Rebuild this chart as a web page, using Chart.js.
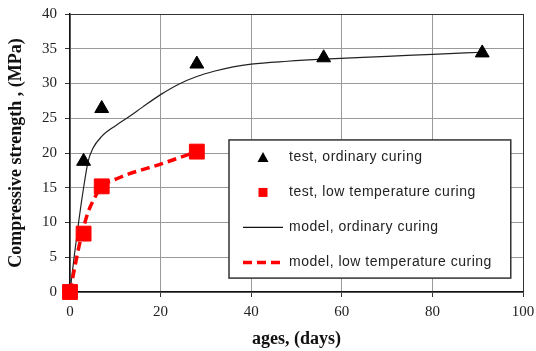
<!doctype html>
<html lang="en">
  <head>
    <script src="https://cdn.jsdelivr.net/npm/chart.js@4.4.1/dist/chart.umd.min.js"></script>
    <title>Compressive strength vs age</title>
    <style>
      html, body { margin: 0; padding: 0; background: #fff; }
    </style>
  </head>
  <body>
    <div style="width: 536px; height: 351px;"><canvas id="strengthChart"></canvas></div>

  <script>
    // test results
    const testOrdDays = [3, 7, 28, 56, 91];
    const testOrdStrength = [18.8, 26.4, 32.8, 33.7, 34.4];
    const testLowDays = [0, 3, 7, 28];
    const testLowStrength = [0, 8.4, 15.2, 20.2];

    // model curves
    const modelOrdDays = [0, 1, 2, 3, 4, 5, 7, 10, 13, 16, 20, 24, 28, 32, 36, 40, 48, 56, 70, 80, 91];
    const modelOrdStrength = [0, 5.5, 10.5, 15, 18.8, 20.6, 22.4, 23.9, 25.2, 26.6, 28.4, 29.9, 31, 31.8, 32.4, 32.8, 33.2, 33.5, 33.9, 34.2, 34.5];
    const modelLowDays = [0, 1, 2, 3, 4, 5, 7, 10, 13, 16, 20, 24, 28];
    const modelLowStrength = [0, 3.4, 6.6, 9.3, 11.5, 13, 15.2, 16.2, 17, 17.6, 18.4, 19.3, 20.2];

    const legendLabels = ['test, ordinary curing', 'test, low temperature curing', 'model, ordinary curing', 'model, low temperature curing'];

    function toPoints(xs, ys) {
        return xs.map((x, i) => ({x: x, y: ys[i]}));
    }

    // legend box drawn inside the plot area
    const boxLegend = {
        id: 'boxLegend',
        afterDatasetsDraw(chart) {
            const ctx = chart.ctx;
            const a = chart.chartArea;
            const w = a.right - a.left, h = a.bottom - a.top;
            const left = a.left + w * 0.351, right = a.left + w * 0.973;
            const top = a.top + h * 0.453, bottom = a.top + h * 0.95;
            ctx.save();
            ctx.fillStyle = '#fff';
            ctx.fillRect(left, top, right - left, bottom - top);
            ctx.strokeStyle = '#333';
            ctx.lineWidth = 1.5;
            ctx.strokeRect(left, top, right - left, bottom - top);

            const symX = left + 34;
            const textX = left + 60;
            const rowH = 35;
            const y0 = top + 17.5;
            ctx.font = '14px "Liberation Sans", sans-serif';
            ctx.letterSpacing = '0.5px';
            ctx.textBaseline = 'middle';
            ctx.textAlign = 'left';
            for (let i = 0; i < legendLabels.length; i++) {
                const y = y0 + i * rowH;
                if (i === 0) {
                    ctx.fillStyle = '#000';
                    ctx.beginPath();
                    ctx.moveTo(symX, y - 5.5);
                    ctx.lineTo(symX + 5.5, y + 4.5);
                    ctx.lineTo(symX - 5.5, y + 4.5);
                    ctx.closePath();
                    ctx.fill();
                } else if (i === 1) {
                    ctx.fillStyle = '#f00';
                    ctx.fillRect(symX - 4.5, y - 4.5, 9, 9);
                } else {
                    ctx.beginPath();
                    ctx.moveTo(symX - 20, y);
                    ctx.lineTo(symX + 20, y);
                    if (i === 2) {
                        ctx.strokeStyle = '#111';
                        ctx.lineWidth = 1.2;
                        ctx.setLineDash([]);
                    } else {
                        ctx.strokeStyle = '#f00';
                        ctx.lineWidth = 3.5;
                        ctx.setLineDash([9, 5]);
                    }
                    ctx.stroke();
                    ctx.setLineDash([]);
                }
                ctx.fillStyle = '#222';
                ctx.fillText(legendLabels[i], textX, y);
            }
            ctx.restore();
        }
    };

    new Chart(
        document.getElementById('strengthChart'),
        {
        type: 'scatter',
        data: {
            datasets: [
            {
                label: legendLabels[0],
                data: toPoints(testOrdDays, testOrdStrength),
                pointStyle: 'triangle',
                pointRadius: 8,
                pointBackgroundColor: '#000',
                pointBorderColor: '#000',
                clip: false,
                order: 1
            },
            {
                label: legendLabels[1],
                data: toPoints(testLowDays, testLowStrength),
                pointStyle: 'rect',
                pointRadius: 10.5,
                pointBackgroundColor: '#f00',
                pointBorderColor: '#f00',
                clip: false,
                order: 0
            },
            {
                label: legendLabels[2],
                data: toPoints(modelOrdDays, modelOrdStrength),
                showLine: true,
                pointRadius: 0,
                borderColor: '#222',
                borderWidth: 1.2,
                cubicInterpolationMode: 'monotone',
                order: 3
            },
            {
                label: legendLabels[3],
                data: toPoints(modelLowDays, modelLowStrength),
                showLine: true,
                pointRadius: 0,
                borderColor: '#f00',
                borderWidth: 3.5,
                borderDash: [9, 5],
                cubicInterpolationMode: 'monotone',
                order: 2
            }
            ]
        },
        options: {
            responsive: true,
            maintainAspectRatio: false,
            animation: false,
            layout: { padding: { left: 0, right: 13, top: 14, bottom: 0 } },
            plugins: {
                legend: { display: false },
                tooltip: { enabled: false }
            },
            scales: {
                x: {
                    type: 'linear',
                    min: 0,
                    max: 100,
                    afterFit: s => { s.height = 59; s.paddingRight = 0; s.paddingLeft = 0; },
                    ticks: {
                        stepSize: 20,
                        color: '#222',
                        padding: 6,
                        font: { family: '"Liberation Serif", serif', size: 15 }
                    },
                    grid: {
                        color: c => c.tick && c.tick.value === 100 ? '#333' : '#9a9a9a',
                        tickColor: '#333',
                        tickLength: 5
                    },
                    border: { color: '#111', width: 1.5 },
                    title: {
                        display: true,
                        text: 'ages, (days)',
                        color: '#111',
                        padding: { top: 0, bottom: 1 },
                        font: { family: '"Liberation Serif", serif', size: 18, weight: 'bold' }
                    }
                },
                y: {
                    min: 0,
                    max: 40,
                    afterFit: s => { s.width = 70; s.paddingTop = 0; },
                    ticks: {
                        stepSize: 5,
                        color: '#222',
                        padding: 8,
                        font: { family: '"Liberation Serif", serif', size: 15 }
                    },
                    grid: {
                        color: c => c.tick && c.tick.value === 40 ? '#333' : '#9a9a9a',
                        tickColor: '#333',
                        tickLength: 5
                    },
                    border: { color: '#111', width: 1.5 },
                    title: {
                        display: true,
                        text: 'Compressive strength , (MPa)',
                        color: '#111',
                        padding: { top: 6, bottom: 0 },
                        font: { family: '"Liberation Serif", serif', size: 18, weight: 'bold' }
                    }
                }
            }
        },
        plugins: [boxLegend]
        }
    );
  </script>
</html>
